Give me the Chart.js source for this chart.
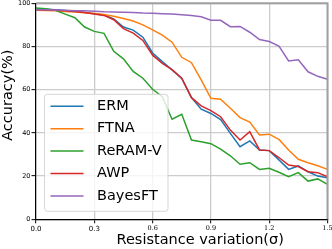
<!DOCTYPE html>
<html>
<head>
<meta charset="utf-8">
<script src="https://cdn.jsdelivr.net/npm/chart.js@4"></script>
<style>
html,body{margin:0;padding:0;background:#fff;}
#wrap{width:332px;height:249px;}
</style>
</head>
<body>
<div id="wrap"><canvas id="c" width="332" height="249"></canvas></div>
<script>
// ---- data ----
const sigma = [0.00,0.05,0.10,0.15,0.20,0.25,0.30,0.35,0.40,0.45,0.50,0.55,0.60,0.65,0.70,0.75,
               0.80,0.85,0.90,0.95,1.00,1.05,1.10,1.15,1.20,1.25,1.30,1.35,1.40,1.45,1.50];
const xTickValues = [0.0,0.3,0.6,0.9,1.2,1.5];
const yTickValues = [0,20,40,60,80,100];
const seriesNames = ['ERM','FTNA','ReRAM-V','AWP','BayesFT'];
const ermAcc    = [97.3,97.2,97.0,96.7,96.3,95.8,95.2,94.6,92.8,89.0,87.6,84.3,77.0,73.0,69.2,65.2,
                   56.3,51.0,49.0,46.2,39.8,33.6,36.3,32.1,31.8,27.5,23.1,24.7,22.0,20.0,19.2];
const ftnaAcc   = [96.8,96.7,96.5,96.2,96.0,95.6,95.3,94.8,94.0,93.0,91.8,90.0,87.7,85.3,82.0,75.0,
                   72.5,64.5,56.0,55.6,51.4,47.1,45.0,39.0,39.4,37.0,32.1,27.8,26.2,24.8,23.1];
const reramAcc  = [97.8,97.5,96.8,95.0,93.3,89.0,87.0,86.1,77.8,74.3,68.5,65.3,60.2,56.8,46.3,48.6,
                   36.7,35.9,35.0,32.5,29.4,25.5,26.2,23.1,23.6,21.8,19.7,21.6,17.7,18.7,16.2];
const awpAcc    = [97.0,96.9,96.8,96.5,96.2,95.7,95.1,94.4,92.4,88.3,86.2,82.8,76.0,72.2,69.3,65.3,
                   56.3,52.5,50.3,47.5,41.3,36.7,40.6,32.1,31.8,28.6,25.1,24.4,22.0,21.6,19.7];
const bayesAcc  = [97.0,97.0,96.9,96.8,96.6,96.5,96.3,96.1,96.0,95.9,95.7,95.5,95.4,95.2,95.0,94.7,
                   94.4,93.8,92.2,92.1,89.2,89.3,86.6,83.2,82.3,80.2,73.3,73.9,68.3,66.2,64.8];
const seriesColors = ['#1f77b4','#ff7f0e','#2ca02c','#d62728','#9467bd'];

const seriesValues = [ermAcc, ftnaAcc, reramAcc, awpAcc, bayesAcc];
const datasets = seriesNames.map((name, i) => ({
  label: name,
  data: sigma.map((s, j) => ({x: s, y: seriesValues[i][j]})),
  borderColor: seriesColors[i],
  backgroundColor: seriesColors[i],
  borderWidth: 1.5,
  pointRadius: 0,
  tension: 0,
  fill: false,
  order: seriesNames.length - i
}));

const SANS = 'DejaVu Sans';

const framePlugin = {
  id: 'frameAndLegend',
  afterDatasetsDraw(chart) {
    const {ctx, chartArea: a} = chart;
    ctx.save();
    // top & right spines (grey)
    ctx.strokeStyle = '#a0a0a0';
    ctx.lineWidth = 2;
    ctx.beginPath();
    ctx.moveTo(a.left, a.top);
    ctx.lineTo(a.right, a.top);
    ctx.lineTo(a.right, a.bottom);
    ctx.stroke();

    // legend box
    const bx = a.left + 8.5, by = a.top + 91, bw = 123.5, bh = 117, r = 3;
    ctx.beginPath();
    ctx.moveTo(bx + r, by);
    ctx.arcTo(bx + bw, by, bx + bw, by + bh, r);
    ctx.arcTo(bx + bw, by + bh, bx, by + bh, r);
    ctx.arcTo(bx, by + bh, bx, by, r);
    ctx.arcTo(bx, by, bx + bw, by, r);
    ctx.closePath();
    ctx.fillStyle = 'rgba(255,255,255,0.8)';
    ctx.fill();
    ctx.strokeStyle = 'rgba(204,204,204,0.8)';
    ctx.lineWidth = 1;
    ctx.stroke();

    ctx.font = '14.5px "' + SANS + '"';
    ctx.textBaseline = 'middle';
    ctx.textAlign = 'left';
    chart.data.datasets.forEach((ds, i) => {
      const y = by + 12 + i * 22.4;
      ctx.strokeStyle = ds.borderColor;
      ctx.lineWidth = ds.borderWidth;
      ctx.beginPath();
      ctx.moveTo(bx + 6, y);
      ctx.lineTo(bx + 39, y);
      ctx.stroke();
      ctx.fillStyle = '#000';
      ctx.fillText(ds.label, bx + 52.5, y);
    });
    ctx.restore();
  }
};

new Chart(document.getElementById('c'), {
  type: 'line',
  data: { datasets },
  options: {
    responsive: false,
    animation: false,
    devicePixelRatio: 1,
    layout: { padding: { left: 0, right: 4.5, top: 3.3, bottom: 0 } },
    plugins: { legend: { display: false }, tooltip: { enabled: false } },
    scales: {
      x: {
        type: 'linear',
        min: 0, max: 1.5,
        afterBuildTicks: s => { s.ticks = xTickValues.map(v => ({value: v})); },
        afterFit: s => { s.height = 29.7; s.paddingLeft = 0; s.paddingRight = 0; },
        ticks: {
          autoSkip: false, maxRotation: 0, padding: 1.5, color: '#000',
          callback: v => Number(v).toFixed(1),
          font: c => c.index >= 2 ? {family: 'DejaVu Serif', size: 6.5} : {family: SANS, size: 7}
        },
        grid: { color: '#cccccc', lineWidth: 1.3, tickColor: '#000', tickLength: 4, tickWidth: 1 },
        border: { color: '#000', width: 1.2 },
        title: { display: true, text: '        Resistance variation(σ)', color: '#000',
                 font: {family: SANS, size: 14.5}, padding: {top: 0, bottom: 0} }
      },
      y: {
        type: 'linear',
        min: 0, max: 100,
        afterBuildTicks: s => { s.ticks = yTickValues.map(v => ({value: v})); },
        afterFit: s => { s.width = 36; s.paddingTop = 0; s.paddingBottom = 0; },
        ticks: { padding: 1, color: '#000', font: {family: SANS, size: 6.5} },
        grid: { color: '#cccccc', lineWidth: 1.3, tickColor: '#000', tickLength: 4.5, tickWidth: 1 },
        border: { color: '#000', width: 1.2 },
        title: { display: true, text: '       Accuracy(%)', color: '#000',
                 font: {family: SANS, size: 14.5}, padding: {top: 0, bottom: 0} }
      }
    }
  },
  plugins: [framePlugin]
});
</script>
</body>
</html>
